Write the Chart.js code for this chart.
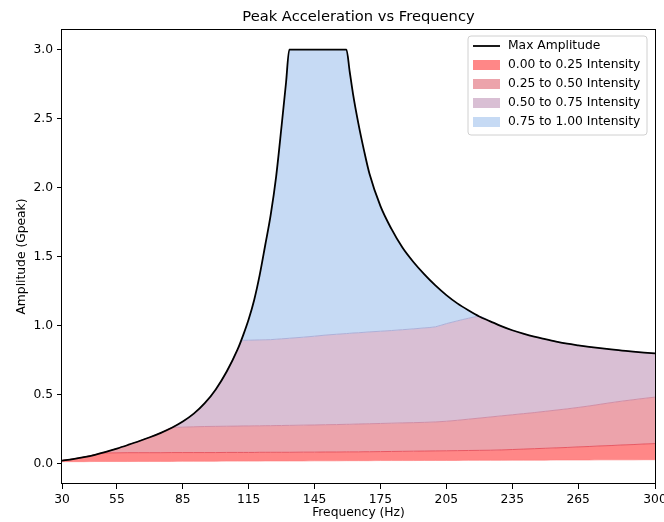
<!DOCTYPE html>
<html>
<head>
<meta charset="utf-8">
<title>Peak Acceleration vs Frequency</title>
<script src="https://cdn.jsdelivr.net/npm/chart.js@4.4.1/dist/chart.umd.min.js"></script>
<style>
  html, body { margin: 0; padding: 0; background: #fff; overflow: hidden; }
  #wrap { width: 664px; height: 522px; }
</style>
</head>
<body>
<div id="wrap"><canvas id="chart" width="664" height="522"></canvas></div>
<script>
    "use strict";

    // labels
    var chartTitle = 'Peak Acceleration vs Frequency'
    var xTitle = 'Frequency (Hz)'
    var yTitle = 'Amplitude (Gpeak)'

    // tick labels
    var xTicks = [30, 55, 85, 115, 145, 175, 205, 235, 265, 300]
    var yTicks = [0, 0.5, 1.0, 1.5, 2.0, 2.5, 3.0]

    // frequency samples (Hz)
    var freqs = [30, 35, 40, 45, 50, 55, 60, 65, 70, 75, 80, 85, 90, 95, 100, 105, 110,
        112.5, 115, 117.5, 120, 122.5, 125, 127.5, 130, 132, 133.5,
        140, 145, 150, 155, 159.5,
        161, 162.5, 165, 167.5, 170,
        175, 180, 185, 190, 195, 200, 205, 210, 215, 220, 225, 230, 235, 240, 245, 250,
        255, 260, 265, 270, 275, 280, 285, 290, 295, 300]

    // max amplitude curve (Gpeak)
    var maxAmplitude = [0.02, 0.031, 0.045, 0.062, 0.083, 0.107, 0.133, 0.16, 0.189, 0.221, 0.258, 0.303, 0.36, 0.436, 0.536, 0.666, 0.828,
        0.93, 1.045, 1.185, 1.365, 1.58, 1.80, 2.08, 2.45, 2.76, 3.0,
        3.0, 3.0, 3.0, 3.0, 3.0,
        2.84, 2.68, 2.46, 2.27, 2.10,
        1.865, 1.70, 1.565, 1.46, 1.37, 1.29, 1.22, 1.16, 1.11, 1.065, 1.03, 0.995, 0.965, 0.94, 0.918, 0.90,
        0.883, 0.868, 0.856, 0.845, 0.835, 0.826, 0.818, 0.81, 0.803, 0.797]

    // band edges
    var floorLevel = [0.012, 0.012, 0.012, 0.013, 0.013, 0.013, 0.013, 0.014, 0.014, 0.014, 0.014, 0.015, 0.015, 0.015, 0.015, 0.016, 0.016,
        0.016, 0.016, 0.016, 0.016, 0.017, 0.017, 0.017, 0.017, 0.017, 0.017,
        0.017, 0.018, 0.018, 0.018, 0.019,
        0.019, 0.019, 0.019, 0.019, 0.019,
        0.02, 0.02, 0.02, 0.02, 0.021, 0.021, 0.021, 0.021, 0.022, 0.022, 0.022, 0.022, 0.023, 0.023, 0.023, 0.023,
        0.024, 0.024, 0.024, 0.024, 0.025, 0.025, 0.025, 0.025, 0.026, 0.026]

    var edge25 = [0.02, 0.031, 0.045, 0.062, 0.075, 0.076, 0.077, 0.077, 0.077, 0.077, 0.078, 0.078, 0.078, 0.078, 0.078, 0.079, 0.079,
        0.079, 0.079, 0.079, 0.08, 0.08, 0.08, 0.08, 0.08, 0.08, 0.08,
        0.081, 0.081, 0.082, 0.082, 0.083,
        0.083, 0.083, 0.083, 0.084, 0.084,
        0.085, 0.086, 0.087, 0.088, 0.089, 0.09, 0.091, 0.092, 0.093, 0.094, 0.095, 0.097, 0.10, 0.103, 0.106, 0.109,
        0.112, 0.115, 0.119, 0.122, 0.126, 0.129, 0.133, 0.136, 0.14, 0.143]

    var edge50 = [0.02, 0.031, 0.045, 0.062, 0.083, 0.107, 0.133, 0.16, 0.189, 0.221, 0.258, 0.262, 0.265, 0.267, 0.268, 0.269, 0.27,
        0.271, 0.271, 0.272, 0.272, 0.273, 0.273, 0.274, 0.274, 0.275, 0.275,
        0.277, 0.278, 0.28, 0.281, 0.283,
        0.283, 0.284, 0.285, 0.286, 0.287,
        0.289, 0.291, 0.293, 0.295, 0.297, 0.30, 0.305, 0.312, 0.32, 0.328, 0.336, 0.344, 0.352, 0.36, 0.368, 0.377,
        0.386, 0.395, 0.405, 0.416, 0.428, 0.44, 0.451, 0.461, 0.471, 0.48]

    var edge75 = [0.02, 0.031, 0.045, 0.062, 0.083, 0.107, 0.133, 0.16, 0.189, 0.221, 0.258, 0.303, 0.36, 0.436, 0.536, 0.666, 0.828,
        0.892, 0.893, 0.894, 0.895, 0.896, 0.897, 0.90, 0.903, 0.905, 0.907,
        0.915, 0.922, 0.93, 0.936, 0.941,
        0.943, 0.945, 0.947, 0.95, 0.953,
        0.958, 0.963, 0.969, 0.975, 0.982, 0.99, 1.013, 1.033, 1.052, 1.065, 1.03, 0.995, 0.965, 0.94, 0.918, 0.90,
        0.883, 0.868, 0.856, 0.845, 0.835, 0.826, 0.818, 0.81, 0.803, 0.797]

    var bandNames = ['0.00 to 0.25 Intensity', '0.25 to 0.50 Intensity', '0.50 to 0.75 Intensity', '0.75 to 1.00 Intensity']
    var bandFills = ['#ff8787', '#eca3ab', '#d9bfd4', '#c6daf4']
    var bandEdges = ['#e65863', '#cf8ea6', '#acb0d8', 'rgba(0,0,0,0)']

    var font = "'DejaVu Sans', sans-serif"

    function pts(arr) {
        return freqs.map(function(f, i) { return {x: f, y: arr[i]} })
    }

    function band(i, arr) {
        return {
            label: bandNames[i],
            data: pts(arr),
            backgroundColor: bandFills[i],
            borderColor: bandEdges[i],
            borderWidth: 1,
            fill: '-1',
            pointRadius: 0,
            cubicInterpolationMode: 'monotone',
            order: 1
        }
    }

    // frame, titles and legend box
    var decor = {
        id: 'decor',
        afterDraw: function(chart) {
            var ctx = chart.ctx, a = chart.chartArea
            ctx.save()
            ctx.strokeStyle = '#000'
            ctx.lineWidth = 1
            ctx.strokeRect(Math.round(a.left) - 0.5, Math.round(a.top) + 0.5,
                Math.round(a.right - a.left) + 1, Math.round(a.bottom - a.top) - 1)

            ctx.fillStyle = '#000'
            ctx.textAlign = 'center'
            ctx.textBaseline = 'middle'
            ctx.font = '14.7px ' + font
            ctx.fillText(chartTitle, (a.left + a.right) / 2, 17)
            ctx.font = '12.3px ' + font
            ctx.fillText(xTitle, (a.left + a.right) / 2, 513)
            ctx.save()
            ctx.translate(22, (a.top + a.bottom) / 2)
            ctx.rotate(-Math.PI / 2)
            ctx.fillText(yTitle, 0, 0)
            ctx.restore()

            // legend
            var lx = 468, ly = 36, lw = 179, lh = 99, r = 3
            ctx.beginPath()
            ctx.moveTo(lx + r, ly)
            ctx.arcTo(lx + lw, ly, lx + lw, ly + lh, r)
            ctx.arcTo(lx + lw, ly + lh, lx, ly + lh, r)
            ctx.arcTo(lx, ly + lh, lx, ly, r)
            ctx.arcTo(lx, ly, lx + lw, ly, r)
            ctx.closePath()
            ctx.fillStyle = 'rgba(255,255,255,0.8)'
            ctx.fill()
            ctx.strokeStyle = '#d0d0d0'
            ctx.stroke()

            var rows = [46, 65, 84, 103, 122]
            ctx.textAlign = 'left'
            ctx.font = '12.3px ' + font
            ctx.strokeStyle = '#000'
            ctx.lineWidth = 1.8
            ctx.beginPath()
            ctx.moveTo(473, rows[0])
            ctx.lineTo(500, rows[0])
            ctx.stroke()
            ctx.fillStyle = '#000'
            ctx.fillText('Max Amplitude', 508, rows[0])
            for (var i = 0; i < 4; i++) {
                ctx.fillStyle = bandFills[i]
                ctx.fillRect(473, rows[i + 1] - 5, 27, 10)
                ctx.fillStyle = '#000'
                ctx.fillText(bandNames[i], 508, rows[i + 1])
            }
            ctx.restore()
        }
    }

    var tickFont = {family: font, size: 12.3}

    new Chart(document.getElementById('chart').getContext('2d'), {
        type: 'line',
        data: {
            datasets: [
                {label: 'floor', data: pts(floorLevel), borderColor: 'rgba(255,120,120,0.6)', borderWidth: 1,
                    pointRadius: 0, fill: false, cubicInterpolationMode: 'monotone', order: 1},
                band(0, edge25),
                band(1, edge50),
                band(2, edge75),
                band(3, maxAmplitude),
                {label: 'Max Amplitude', data: pts(maxAmplitude), borderColor: '#000', borderWidth: 1.8,
                    pointRadius: 0, fill: false, cubicInterpolationMode: 'monotone', order: 0}
            ]
        },
        options: {
            responsive: false,
            animation: false,
            layout: {padding: {top: 29, right: 9, left: 0, bottom: 0}},
            plugins: {legend: {display: false}, title: {display: false}, tooltip: {enabled: false}},
            scales: {
                x: {
                    type: 'linear', min: 30, max: 300,
                    afterBuildTicks: function(s) { s.ticks = xTicks.map(function(v) { return {value: v} }) },
                    afterFit: function(s) { s.height = 38; s.paddingLeft = 0; s.paddingRight = 0 },
                    ticks: {callback: function(v) { return String(v) }, color: '#000', font: tickFont,
                        padding: 3, maxRotation: 0, autoSkip: false},
                    grid: {drawOnChartArea: false, drawTicks: true, tickLength: 5, color: '#000'},
                    border: {display: false}
                },
                y: {
                    type: 'linear', min: -0.15, max: 3.15,
                    afterBuildTicks: function(s) { s.ticks = yTicks.map(function(v) { return {value: v} }) },
                    afterFit: function(s) { s.width = 62; s.paddingTop = 0; s.paddingBottom = 0 },
                    ticks: {callback: function(v) { return v.toFixed(1) }, color: '#000', font: tickFont, padding: 4},
                    grid: {drawOnChartArea: false, drawTicks: true, tickLength: 5, color: '#000'},
                    border: {display: false}
                }
            }
        },
        plugins: [decor]
    })
</script>
</body>
</html>
